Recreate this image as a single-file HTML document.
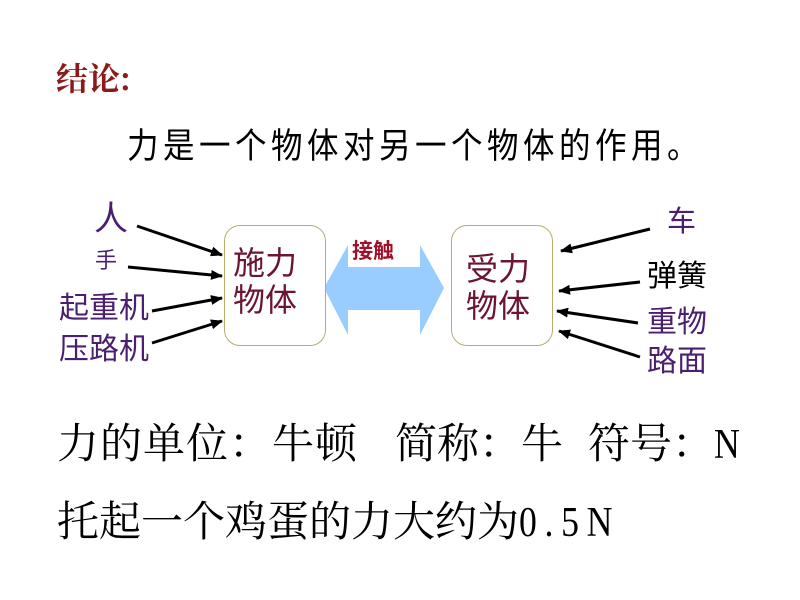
<!DOCTYPE html>
<html><head><meta charset="utf-8"><style>
body{margin:0;width:800px;height:600px;background:#fff;position:relative;overflow:hidden;font-family:"Liberation Sans","Noto Sans CJK SC",sans-serif}
.t{position:absolute;white-space:nowrap;line-height:1}
.p{color:#4b1f6f}
.s{font-family:"Noto Serif CJK SC",serif}
.m{font-family:"Liberation Serif",serif;letter-spacing:9px;display:inline-block;transform:scaleX(0.85);transform-origin:0 0}
.box{position:absolute;border:1.5px solid #b8ae6a;border-radius:16px;background:#fff}
</style></head><body>
<div class="t s" style="left:56px;top:61px;font-size:32px;color:#8b1a1a;font-weight:bold">结论:</div>
<div class="t" style="left:127px;top:129px;font-size:35px;letter-spacing:5px;color:#000;transform:scaleX(0.9);transform-origin:0 0">力是一个物体对另一个物体的作用。</div>

<svg width="800" height="600" style="position:absolute;left:0;top:0">
<defs><marker id="a" markerWidth="12" markerHeight="10" refX="11" refY="5" orient="auto" markerUnits="userSpaceOnUse"><path d="M0,0 L12,5 L0,10 z" fill="#000"/></marker></defs>
<polygon points="324,288 348,245 348,267 420,267 420,245 444,288 420,335 420,310 348,310 348,335" fill="#99ccff"/>
<g stroke="#000" stroke-width="3" marker-end="url(#a)">
<line x1="137" y1="226" x2="222" y2="255"/>
<line x1="128" y1="267" x2="222" y2="276"/>
<line x1="152" y1="311" x2="222" y2="298"/>
<line x1="152" y1="343" x2="222" y2="321"/>
<line x1="650" y1="229" x2="561" y2="251"/>
<line x1="640" y1="282" x2="559" y2="291"/>
<line x1="638" y1="323" x2="557" y2="311"/>
<line x1="640" y1="357" x2="559" y2="331"/>
</g>
</svg>
<div class="t" style="left:351px;top:241px;font-size:21px;font-weight:bold;color:#a0102a;background:#fff;padding:0 1px">接触</div>

<div class="box" style="left:224px;top:225px;width:100px;height:119px"></div>
<div class="box" style="left:451px;top:225px;width:100px;height:119px"></div>
<div class="t" style="left:233px;top:245px;font-size:32px;line-height:37px;color:#6b1433">施力<br>物体</div>
<div class="t" style="left:466px;top:251px;font-size:32px;line-height:37px;color:#6b1433">受力<br>物体</div>

<div class="t p" style="left:94px;top:202px;font-size:34px">人</div>
<div class="t p" style="left:95px;top:250px;font-size:22px">手</div>
<div class="t p" style="left:59px;top:294px;font-size:30px">起重机</div>
<div class="t p" style="left:59px;top:335px;font-size:30px">压路机</div>
<div class="t p" style="left:667px;top:208px;font-size:29px">车</div>
<div class="t" style="left:647px;top:262px;font-size:30px;color:#000">弹簧</div>
<div class="t p" style="left:647px;top:308px;font-size:30px">重物</div>
<div class="t p" style="left:647px;top:347px;font-size:30px">路面</div>

<div class="t s" style="left:57px;top:420px;font-size:42px;letter-spacing:1px">力的单位：牛顿</div>
<div class="t s" style="left:395px;top:420px;font-size:42px">简称：牛</div>
<div class="t s" style="left:588px;top:420px;font-size:42px">符号：<span class="m">N</span></div>
<div class="t s" style="left:57px;top:498px;font-size:42px">托起一个鸡蛋的力大约为<span class="m">0.5N</span></div>
</body></html>
